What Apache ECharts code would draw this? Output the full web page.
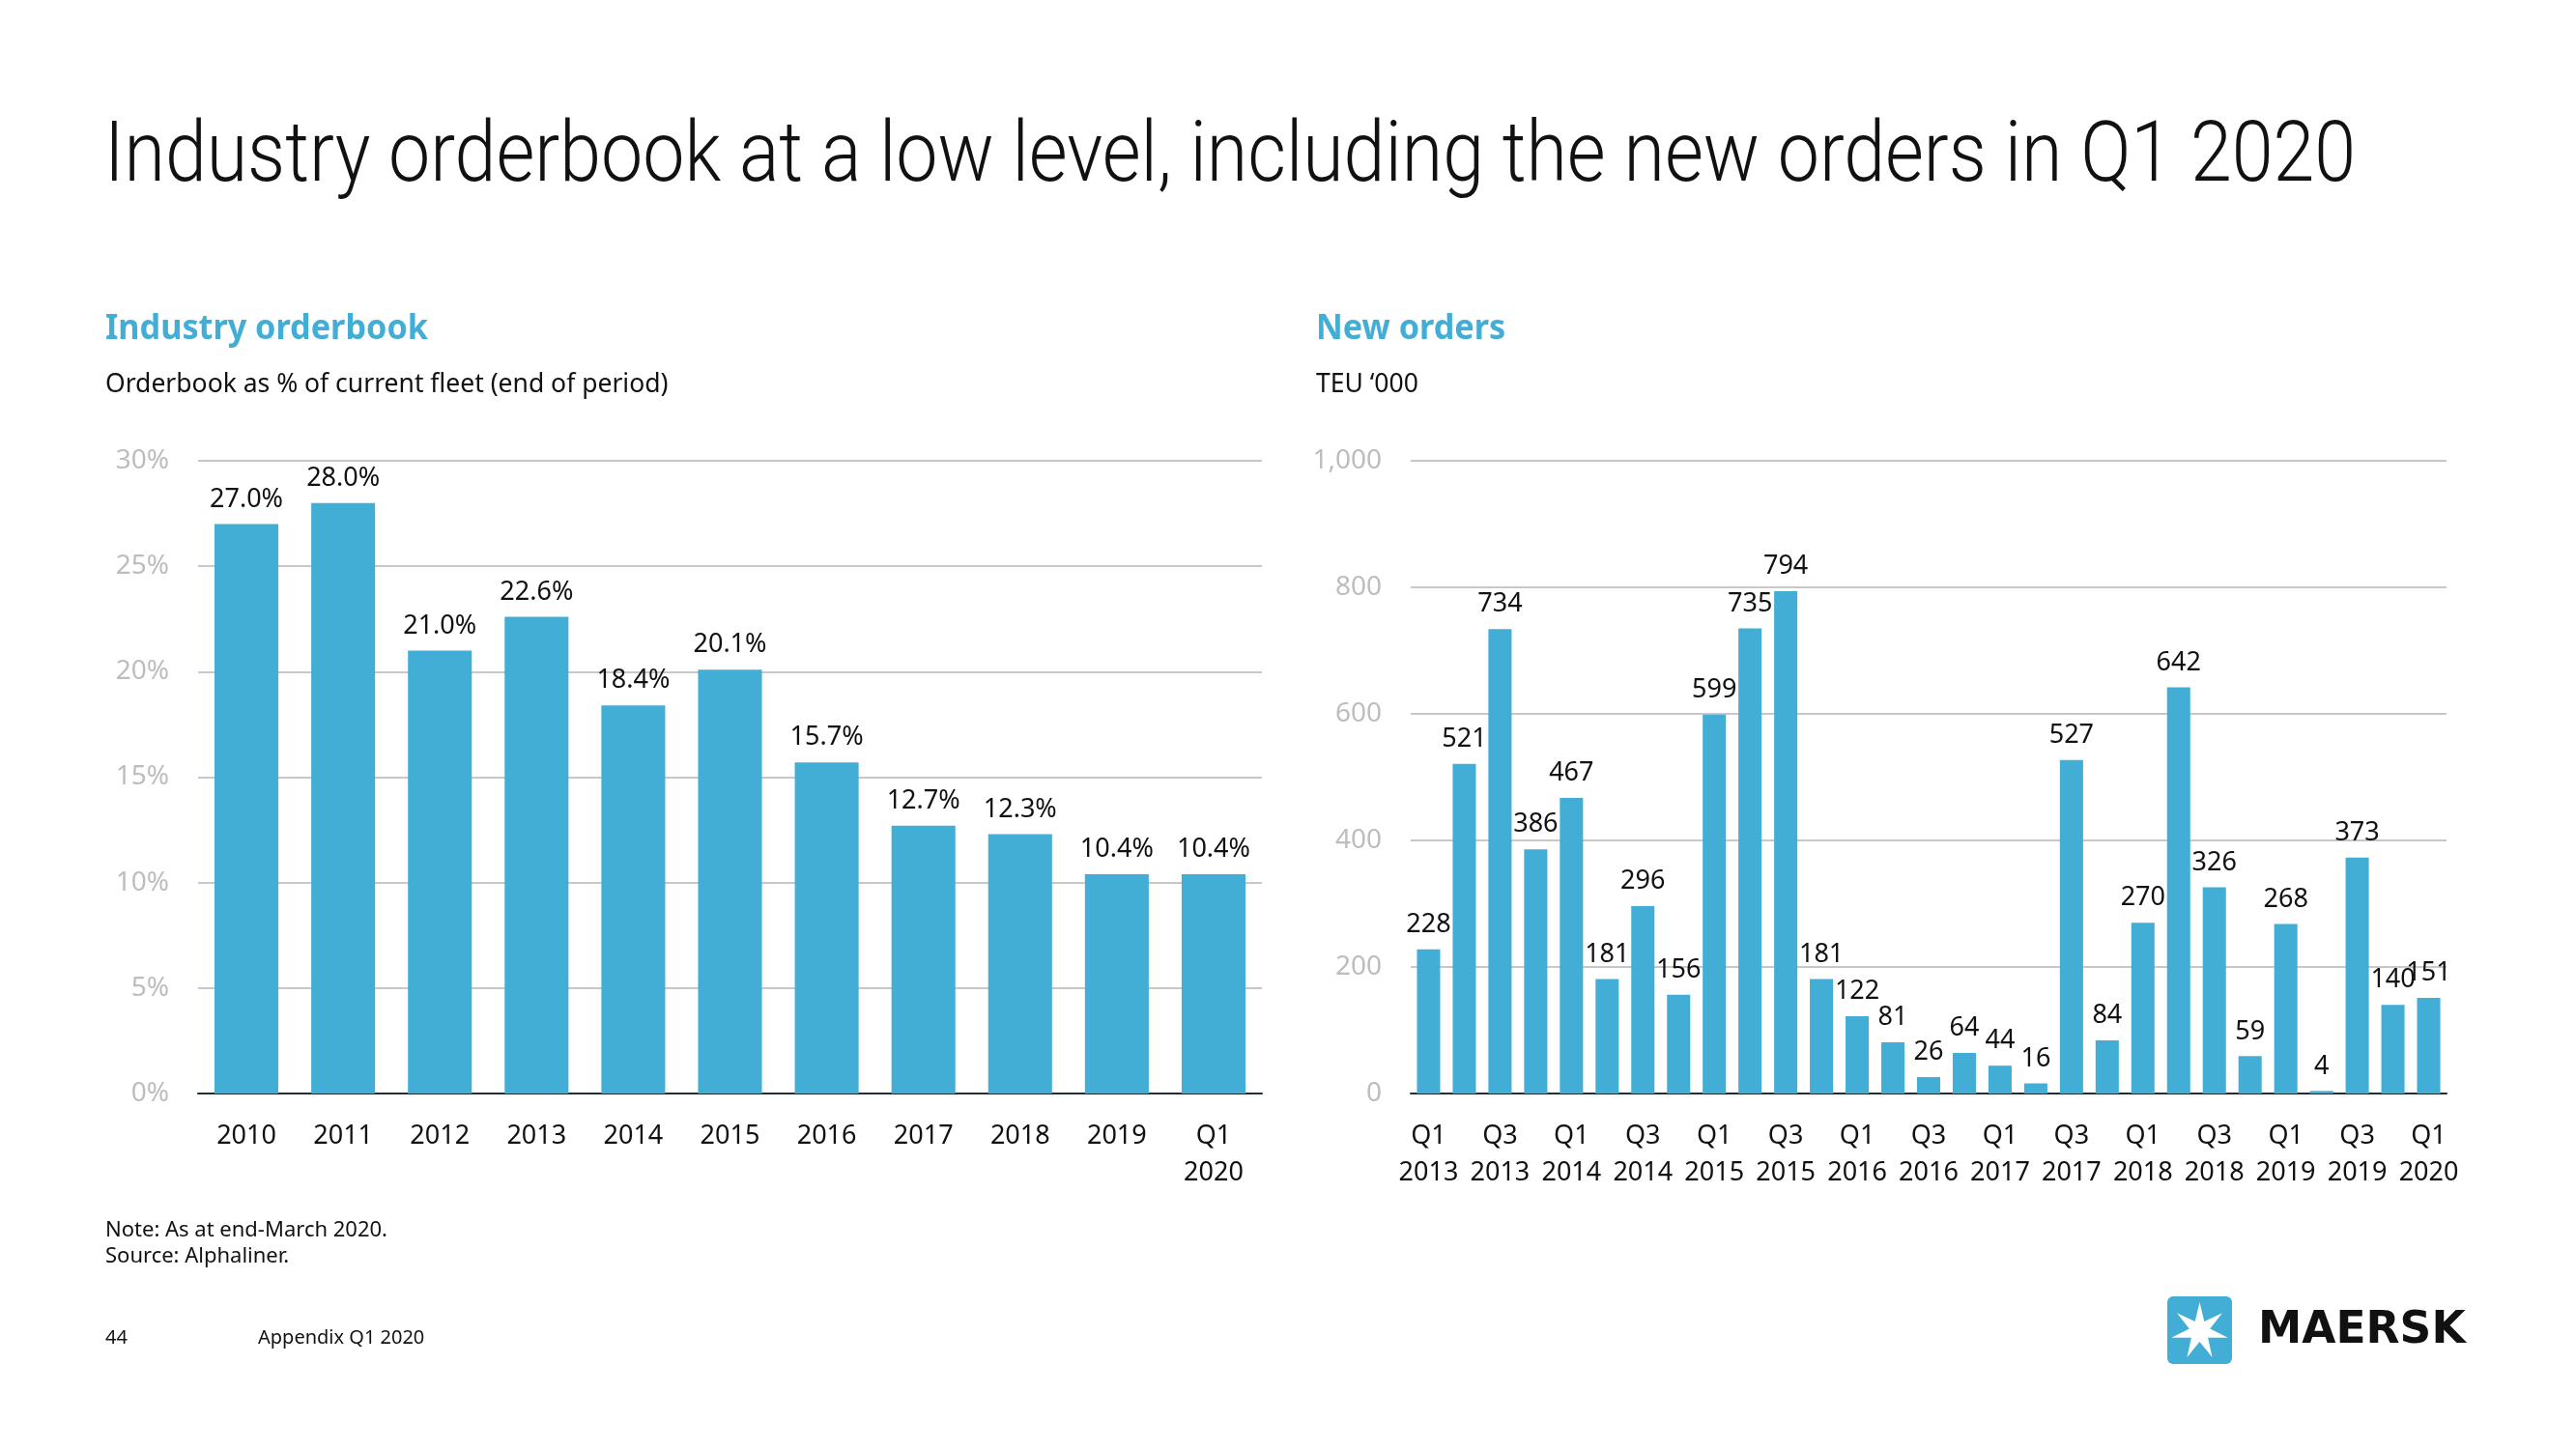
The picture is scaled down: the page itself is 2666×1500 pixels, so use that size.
<!DOCTYPE html>
<html>
<head>
<meta charset="utf-8">
<script src="https://cdn.jsdelivr.net/npm/echarts@6/dist/echarts.min.js"></script>
<style>
html,body{margin:0;padding:0;background:#fff;}
#chart{width:2666px;height:1500px;}
</style>
</head>
<body>
<div id="chart"></div>
<script>
// ---- Data ----
const orderbookYears = ['2010','2011','2012','2013','2014','2015','2016','2017','2018','2019','Q1\n2020'];
const orderbookPct = [27.0, 28.0, 21.0, 22.6, 18.4, 20.1, 15.7, 12.7, 12.3, 10.4, 10.4];
const orderQuarters = [
  'Q1\n2013','Q2\n2013','Q3\n2013','Q4\n2013',
  'Q1\n2014','Q2\n2014','Q3\n2014','Q4\n2014',
  'Q1\n2015','Q2\n2015','Q3\n2015','Q4\n2015',
  'Q1\n2016','Q2\n2016','Q3\n2016','Q4\n2016',
  'Q1\n2017','Q2\n2017','Q3\n2017','Q4\n2017',
  'Q1\n2018','Q2\n2018','Q3\n2018','Q4\n2018',
  'Q1\n2019','Q2\n2019','Q3\n2019','Q4\n2019',
  'Q1\n2020'
];
const newOrdersTEU = [228, 521, 734, 386, 467, 181, 296, 156, 599, 735, 794, 181, 122, 81, 26, 64, 44, 16, 527, 84, 270, 642, 326, 59, 268, 4, 373, 140, 151];
const pctTicks = [0, 5, 10, 15, 20, 25, 30];
const teuTicks = [0, 200, 400, 600, 800, 1000];

const BLUE = '#42AED6';
const FONT = '"Noto Sans", "Open Sans", sans-serif';

const chart = echarts.init(document.getElementById('chart'));

function starPoints(cx, cy, R, r, n) {
  const pts = [];
  for (let i = 0; i < 2 * n; i++) {
    const a = -Math.PI / 2 + i * Math.PI / n;
    const rad = i % 2 === 0 ? R : r;
    pts.push([cx + rad * Math.cos(a), cy + rad * Math.sin(a)]);
  }
  return pts;
}

const axisLabelX = { color: '#111', fontSize: 27, fontFamily: FONT, lineHeight: 38, margin: 25 };
const yLabel = { color: '#bdbdbd', fontSize: 28, fontFamily: FONT, margin: 30 };
const splitLine = { show: true, lineStyle: { color: '#c8c8c8', width: 2 } };
const axisLine = { show: true, lineStyle: { color: '#1f2f38', width: 2 } };

chart.setOption({
  animation: false,
  backgroundColor: '#fff',
  grid: [
    { left: 205, right: 1360, top: 477, bottom: 368, containLabel: false },
    { left: 1460, right: 134, top: 477, bottom: 368, containLabel: false }
  ],
  xAxis: [
    { type: 'category', gridIndex: 0, data: orderbookYears, axisTick: { show: false }, axisLine: axisLine, axisLabel: Object.assign({ interval: 0 }, axisLabelX) },
    { type: 'category', gridIndex: 1, data: orderQuarters, axisTick: { show: false }, axisLine: axisLine, axisLabel: Object.assign({ interval: 1 }, axisLabelX) }
  ],
  yAxis: [
    { type: 'value', gridIndex: 0, min: pctTicks[0], max: pctTicks[pctTicks.length - 1], interval: 5, axisLine: { show: false }, axisTick: { show: false }, splitLine: splitLine, axisLabel: Object.assign({ formatter: '{value}%' }, yLabel) },
    { type: 'value', gridIndex: 1, min: teuTicks[0], max: teuTicks[teuTicks.length - 1], interval: 200, axisLine: { show: false }, axisTick: { show: false }, splitLine: splitLine, axisLabel: Object.assign({ formatter: v => v.toLocaleString('en-US') }, yLabel) }
  ],
  series: [
    { type: 'bar', xAxisIndex: 0, yAxisIndex: 0, data: orderbookPct, barCategoryGap: '34%', itemStyle: { color: BLUE },
      label: { show: true, position: 'top', distance: 12, color: '#111', fontSize: 27, fontFamily: FONT, formatter: p => p.value.toFixed(1) + '%' } },
    { type: 'bar', xAxisIndex: 1, yAxisIndex: 1, data: newOrdersTEU, barCategoryGap: '35%', itemStyle: { color: BLUE },
      label: { show: true, position: 'top', distance: 12, color: '#111', fontSize: 27, fontFamily: FONT } }
  ],
  graphic: [
    { type: 'text', x: 108, y: 165, scaleX: 0.876, style: { text: 'Industry orderbook at a low level, including the new orders in Q1 2020', fontSize: 88, fontWeight: 300, fontFamily: 'Roboto, sans-serif', fill: '#111', verticalAlign: 'middle', align: 'left' } },
    { type: 'text', x: 109, y: 341, scaleX: 0.95, style: { text: 'Industry orderbook', fontSize: 36, fontWeight: 'bold', fontFamily: FONT, fill: BLUE, verticalAlign: 'middle' } },
    { type: 'text', x: 109, y: 398, style: { text: 'Orderbook as % of current fleet (end of period)', fontSize: 26.5, fontFamily: FONT, fill: '#111', verticalAlign: 'middle' } },
    { type: 'text', x: 1362, y: 341, scaleX: 0.95, style: { text: 'New orders', fontSize: 36, fontWeight: 'bold', fontFamily: FONT, fill: BLUE, verticalAlign: 'middle' } },
    { type: 'text', x: 1362, y: 398, style: { text: 'TEU \u2018000', fontSize: 26.5, fontFamily: FONT, fill: '#111', verticalAlign: 'middle' } },
    { type: 'text', x: 109, y: 1274, style: { text: 'Note: As at end-March 2020.', fontSize: 22, fontFamily: FONT, fill: '#111', verticalAlign: 'middle' } },
    { type: 'text', x: 109, y: 1301, style: { text: 'Source: Alphaliner.', fontSize: 22, fontFamily: FONT, fill: '#111', verticalAlign: 'middle' } },
    { type: 'text', x: 109, y: 1385, style: { text: '44', fontSize: 20, fontFamily: FONT, fill: '#111', verticalAlign: 'middle' } },
    { type: 'text', x: 267, y: 1385, style: { text: 'Appendix Q1 2020', fontSize: 20, fontFamily: FONT, fill: '#111', verticalAlign: 'middle' } },
    { type: 'rect', shape: { x: 2243, y: 1342, width: 67, height: 70, r: 6 }, style: { fill: BLUE } },
    { type: 'polygon', shape: { points: starPoints(2276.5, 1378, 30, 11, 7) }, style: { fill: '#fff' } },
    { type: 'text', x: 2337, y: 1378, style: { text: 'MAERSK', fontSize: 45.5, fontWeight: 'bold', fontFamily: '"DejaVu Sans", sans-serif', fill: '#111', verticalAlign: 'middle' } }
  ]
});
</script>
</body>
</html>
